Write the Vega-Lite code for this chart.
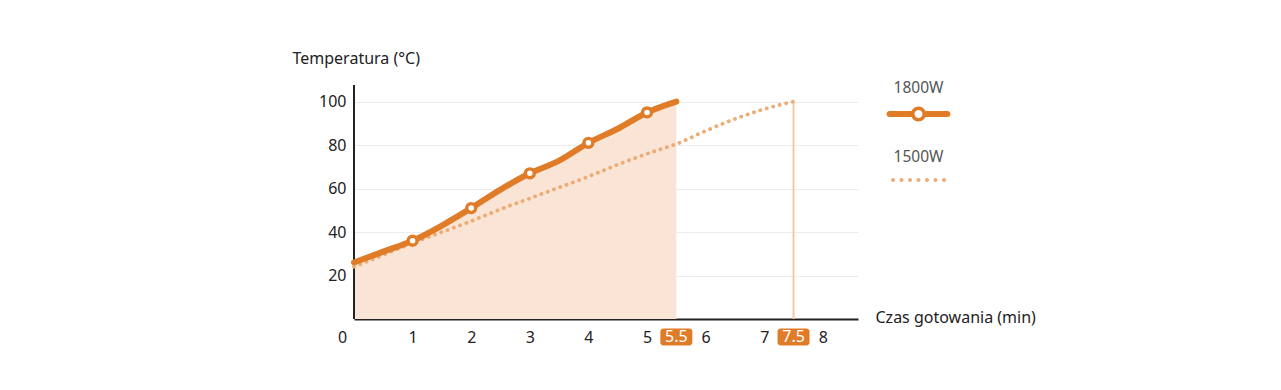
{
  "$schema": "https://vega.github.io/schema/vega-lite/v6.json",
  "autosize": "none",
  "width": 504,
  "height": 261,
  "padding": {"left": 354, "top": 85, "right": 423, "bottom": 44},
  "background": "white",
  "config": {"view": {"stroke": null}, "font": "Noto Sans"},
  "data": {"values": [
    {"series": "1800W", "t": 0, "temp": 26},
    {"series": "1800W", "t": 0.5, "temp": 31},
    {"series": "1800W", "t": 1, "temp": 36},
    {"series": "1800W", "t": 1.5, "temp": 43},
    {"series": "1800W", "t": 2, "temp": 51},
    {"series": "1800W", "t": 2.5, "temp": 59.5},
    {"series": "1800W", "t": 3, "temp": 67},
    {"series": "1800W", "t": 3.5, "temp": 72.8},
    {"series": "1800W", "t": 4, "temp": 81},
    {"series": "1800W", "t": 4.5, "temp": 87.5},
    {"series": "1800W", "t": 5, "temp": 95},
    {"series": "1800W", "t": 5.5, "temp": 100},
    {"series": "1500W", "t": 0, "temp": 24},
    {"series": "1500W", "t": 0.5, "temp": 29.5},
    {"series": "1500W", "t": 1, "temp": 35},
    {"series": "1500W", "t": 1.5, "temp": 40},
    {"series": "1500W", "t": 2, "temp": 45},
    {"series": "1500W", "t": 2.5, "temp": 50.5},
    {"series": "1500W", "t": 3, "temp": 55.5},
    {"series": "1500W", "t": 3.5, "temp": 60.5},
    {"series": "1500W", "t": 4, "temp": 65.5},
    {"series": "1500W", "t": 4.5, "temp": 71},
    {"series": "1500W", "t": 5, "temp": 76},
    {"series": "1500W", "t": 5.5, "temp": 80.5},
    {"series": "1500W", "t": 6, "temp": 86.5},
    {"series": "1500W", "t": 6.5, "temp": 92},
    {"series": "1500W", "t": 7, "temp": 96.5},
    {"series": "1500W", "t": 7.5, "temp": 100}
  ]},
  "encoding": {
    "x": {
      "field": "t",
      "type": "quantitative",
      "scale": {"domain": [0, 8.6], "nice": false, "zero": false, "padding": 0},
      "axis": {
        "title": "Czas gotowania (min)",
        "values": [0, 1, 2, 3, 4, 5, 6, 7, 8],
        "offset": -27,
        "ticks": false,
        "grid": false,
        "labelPadding": 10,
        "labelFontSize": 16,
        "labelColor": "#222",
        "labelFlush": false,
        "labelOverlap": false,
        "labelOffset": {"condition": {"test": "datum.value === 0", "value": -12}, "value": 0},
        "domainColor": "#222",
        "domainWidth": 2,
        "titleX": 521,
        "titleY": -2,
        "titleAlign": "left",
        "titleBaseline": "middle",
        "titleFontSize": 16,
        "titleFontWeight": "normal",
        "titleColor": "#222"
      }
    }
  },
  "layer": [
    {
      "transform": [{"filter": "datum.series === '1800W'"}],
      "mark": {"type": "area", "color": "#f9e4d5", "interpolate": "monotone"},
      "encoding": {
        "y": {
          "field": "temp",
          "type": "quantitative",
          "scale": {"domain": [-12.4, 107.6], "nice": false, "zero": false},
          "axis": {
            "title": "Temperatura (°C)",
            "values": [20, 40, 60, 80, 100],
            "ticks": false,
            "grid": true,
            "gridColor": "#ececec",
            "gridWidth": 1,
            "domain": false,
            "labelPadding": 8,
            "labelFontSize": 16,
            "labelColor": "#222",
            "titleAngle": 0,
            "titleX": -62,
            "titleY": -27,
            "titleAlign": "left",
            "titleBaseline": "middle",
            "titleFontSize": 16,
            "titleFontWeight": "normal",
            "titleColor": "#222"
          }
        },
        "y2": {"datum": 0}
      }
    },
    {
      "data": {"values": [{"t": 7.5, "temp": 100}]},
      "mark": {"type": "rule", "color": "#f4c9a5", "strokeWidth": 2},
      "encoding": {"y": {"field": "temp", "type": "quantitative"}, "y2": {"datum": 0}}
    },
    {
      "data": {"values": [{"t": 0, "temp": 107.6}]},
      "mark": {"type": "rule", "color": "#222", "strokeWidth": 2},
      "encoding": {"y": {"field": "temp", "type": "quantitative"}, "y2": {"datum": 0}}
    },
    {
      "transform": [{"filter": "datum.series === '1500W'"}],
      "mark": {"type": "line", "color": "#eeab73", "strokeWidth": 3.8, "strokeDash": [0.1, 6.6], "strokeCap": "round", "interpolate": "monotone"},
      "encoding": {"y": {"field": "temp", "type": "quantitative"}}
    },
    {
      "transform": [{"filter": "datum.series === '1800W'"}],
      "mark": {"type": "line", "color": "#e07b28", "strokeWidth": 6, "strokeCap": "round", "strokeJoin": "round", "interpolate": "monotone"},
      "encoding": {"y": {"field": "temp", "type": "quantitative"}}
    },
    {
      "transform": [{"filter": "datum.series === '1800W' && datum.t % 1 === 0 && datum.t >= 1"}],
      "mark": {"type": "point", "filled": true, "fill": "white", "stroke": "#e07b28", "strokeWidth": 3.4, "size": 80, "opacity": 1},
      "encoding": {"y": {"field": "temp", "type": "quantitative"}}
    },
    {
      "data": {"values": [{"t": 5.5, "label": "5.5"}, {"t": 7.5, "label": "7.5"}]},
      "mark": {"type": "bar", "color": "#e07b28", "width": 32, "cornerRadius": 3},
      "encoding": {"y": {"datum": -4.4, "type": "quantitative"}, "y2": {"datum": -12.2}}
    },
    {
      "data": {"values": [{"t": 5.5, "label": "5.5"}, {"t": 7.5, "label": "7.5"}]},
      "mark": {"type": "text", "color": "white", "fontSize": 16, "align": "center", "baseline": "middle"},
      "encoding": {"y": {"datum": -8.3, "type": "quantitative"}, "text": {"field": "label"}}
    },
    {
      "data": {"values": [{"series": "1800W"}, {"series": "1500W"}]},
      "mark": {"type": "point", "filled": true, "size": 0},
      "encoding": {
        "shape": {
          "field": "series",
          "type": "nominal",
          "scale": {
            "domain": ["1800W", "1500W"],
            "range": [
              "M-0.906,0.7185L-0.2,0.7185L-0.2,0.9065L-0.906,0.9065A0.094,0.094 0 0,1 -0.906,0.7185Z M0.2,0.7185L0.906,0.7185A0.094,0.094 0 0,1 0.906,0.9065L0.2,0.9065Z M-0.234,0.8125A0.234,0.234 0 1,1 0.234,0.8125A0.234,0.234 0 1,1 -0.234,0.8125Z M-0.125,0.8125A0.125,0.125 0 1,0 0.125,0.8125A0.125,0.125 0 1,0 -0.125,0.8125Z",
              "M-0.8595,0.72A0.0625,0.0625 0 1,0 -0.7345,0.72A0.0625,0.0625 0 1,0 -0.8595,0.72Z M-0.5935,0.72A0.0625,0.0625 0 1,0 -0.4685,0.72A0.0625,0.0625 0 1,0 -0.5935,0.72Z M-0.3285,0.72A0.0625,0.0625 0 1,0 -0.2035,0.72A0.0625,0.0625 0 1,0 -0.3285,0.72Z M-0.0625,0.72A0.0625,0.0625 0 1,0 0.0625,0.72A0.0625,0.0625 0 1,0 -0.0625,0.72Z M0.2035,0.72A0.0625,0.0625 0 1,0 0.3285,0.72A0.0625,0.0625 0 1,0 0.2035,0.72Z M0.4685,0.72A0.0625,0.0625 0 1,0 0.5935,0.72A0.0625,0.0625 0 1,0 0.4685,0.72Z M0.7345,0.72A0.0625,0.0625 0 1,0 0.8595,0.72A0.0625,0.0625 0 1,0 0.7345,0.72Z"
            ]
          },
          "legend": {
            "title": null,
            "orient": "none",
            "legendX": 532.5,
            "legendY": -29,
            "direction": "vertical",
            "symbolSize": 4096,
            "symbolStrokeWidth": 0,
            "symbolOpacity": 1,
            "labelAlign": "center",
            "labelBaseline": "middle",
            "labelOffset": -32,
            "labelFontSize": 15.5,
            "labelColor": "#555",
            "labelLimit": 200,
            "rowPadding": 3,
            "padding": 0
          }
        },
        "color": {
          "field": "series",
          "type": "nominal",
          "scale": {"domain": ["1800W", "1500W"], "range": ["#e07b28", "#eeab73"]},
          "legend": {
            "title": null,
            "orient": "none",
            "legendX": 532.5,
            "legendY": -29,
            "direction": "vertical",
            "symbolSize": 4096,
            "symbolStrokeWidth": 0,
            "symbolOpacity": 1,
            "labelAlign": "center",
            "labelBaseline": "middle",
            "labelOffset": -32,
            "labelFontSize": 15.5,
            "labelColor": "#555",
            "labelLimit": 200,
            "rowPadding": 3,
            "padding": 0
          }
        }
      }
    }
  ]
}
